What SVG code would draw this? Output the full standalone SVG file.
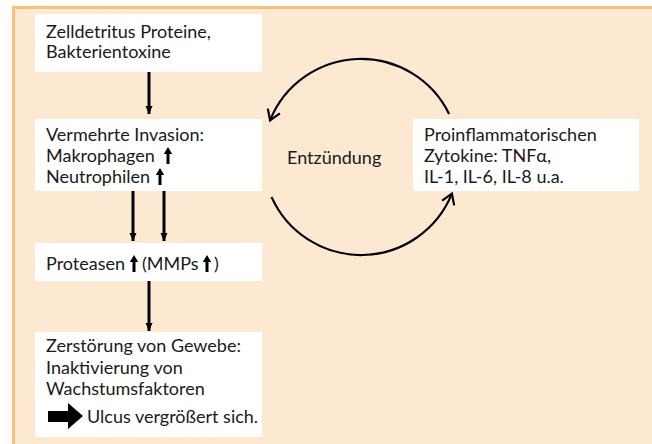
<svg xmlns="http://www.w3.org/2000/svg" width="652" height="444" viewBox="0 0 652 444">
<style>
text{font-family:Lato,"Liberation Sans",sans-serif;font-size:18px;fill:#1a1a1a}
.box{fill:#fff}
.v{stroke:#000;stroke-width:3;fill:none}
.arc{stroke:#000;stroke-width:2.2;fill:none}
</style>
<defs>
<marker id="ah" markerWidth="8" markerHeight="12" refX="8" refY="6" orient="auto" markerUnits="userSpaceOnUse">
<path d="M0,2.5 L8,6 L0,9.5 Z" fill="#000"/>
</marker>
<marker id="oh" markerWidth="14" markerHeight="16" refX="11" refY="8" orient="auto" markerUnits="userSpaceOnUse">
<path d="M1,1.5 L11,8 L1,14.5" fill="none" stroke="#000" stroke-width="2.2"/>
</marker>
<path id="up" d="M-1.5,17 V7 H-4.2 L0,0 L4.2,7 H1.5 V17 Z" fill="#000"/>
</defs>
<rect x="0" y="0" width="652" height="444" fill="#fff"/>
<rect x="12" y="6" width="640" height="438" fill="#fde9d2"/>
<path d="M13.5,444 V7.5 H652" fill="none" stroke="#fbc07a" stroke-width="3"/>

<g id="n1"><rect class="box" x="35" y="14" width="227" height="58"/>
<text x="46" y="38">Zelldetritus Proteine,</text><text x="46" y="58">Bakterientoxine</text></g>

<g id="n2"><rect class="box" x="35" y="119" width="227" height="72"/>
<text x="46" y="141">Vermehrte Invasion:</text><text x="46" y="162">Makrophagen</text><text x="46" y="183">Neutrophilen</text>
<use href="#up" x="168" y="147"/>
<use href="#up" x="160" y="168"/></g>

<g id="n3"><rect class="box" x="35" y="243" width="227" height="38"/>
<text x="46" y="270">Proteasen</text><text x="142" y="270">(MMPs</text><text x="214" y="270">)</text>
<use href="#up" x="134" y="255"/>
<use href="#up" x="207" y="255"/></g>

<g id="n4"><rect class="box" x="35" y="332" width="227" height="105"/>
<text x="46" y="352">Zerstörung von Gewebe:</text><text x="46" y="374">Inaktivierung von</text><text x="46" y="395">Wachstumsfaktoren</text>
<path d="M48,411 H68 V403 L83,416 L68,429 V422 H48 Z" fill="#000"/>
<text x="87" y="423">Ulcus vergrößert sich.</text></g>

<g id="n5"><rect class="box" x="413" y="119" width="226" height="72"/>
<text x="424" y="141">Proinflammatorischen</text><text x="424" y="162">Zytokine: TNFα,</text><text x="424" y="183">IL-1, IL-6, IL-8 u.a.</text></g>

<g id="n6"><text x="287" y="164">Entzündung</text></g>

<g id="connectors">
<path class="v" d="M149,72 V114" marker-end="url(#ah)"/>
<path class="v" d="M133,191 V241" marker-end="url(#ah)"/>
<path class="v" d="M164,191 V241" marker-end="url(#ah)"/>
<path class="v" d="M149,281 V331" marker-end="url(#ah)"/>
<path class="arc" d="M449.1,114 A98,98 0 0 0 270.1,120.3" marker-end="url(#oh)"/>
<path class="arc" d="M271.5,196.9 A98,98 0 0 0 451.9,193.7" marker-end="url(#oh)"/>
</g>
</svg>
